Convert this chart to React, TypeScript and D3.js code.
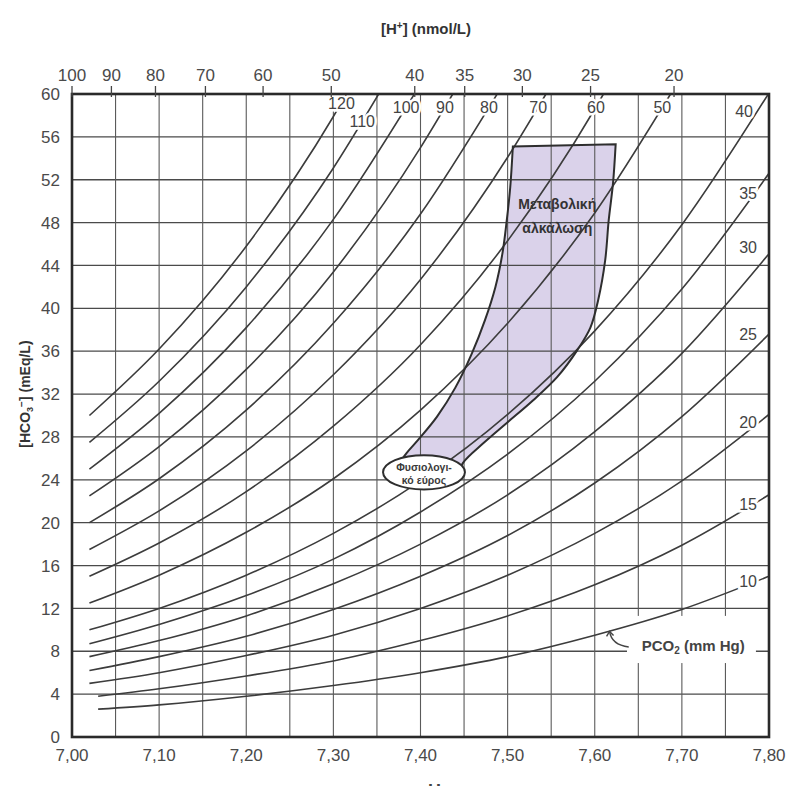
import React, { useEffect, useRef } from "react";
import * as d3 from "d3";

// bottom axis (pH)
const phTicks = [7.0, 7.1, 7.2, 7.3, 7.4, 7.5, 7.6, 7.7, 7.8];
const phTickLabels = ["7,00", "7,10", "7,20", "7,30", "7,40", "7,50", "7,60", "7,70", "7,80"];
// left axis ([HCO3-] mEq/L)
const hco3Ticks = [0, 4, 8, 12, 16, 20, 24, 28, 32, 36, 40, 44, 48, 52, 56, 60];
// top axis ([H+] nmol/L)
const hTicks = [100, 90, 80, 70, 60, 50, 40, 35, 30, 25, 20];

// PCO2 isobars, [pH, HCO3]
const pco2Labels = ["120", "110", "100", "90", "80", "70", "60", "50", "40", "35", "30", "25", "20", "15", "10"];
const isobars = [
  [[7.02, 30.0], [7.1, 36.2], [7.2, 45.8], [7.3, 57.9], [7.315, 60]],
  [[7.02, 27.5], [7.1, 33.2], [7.2, 42.0], [7.3, 53.1], [7.352, 60]],
  [[7.02, 25.0], [7.1, 30.2], [7.2, 38.2], [7.3, 48.3], [7.393, 60]],
  [[7.02, 22.5], [7.1, 27.1], [7.2, 34.3], [7.3, 43.4], [7.4, 55.0], [7.437, 60]],
  [[7.02, 20.0], [7.1, 24.1], [7.2, 30.5], [7.3, 38.6], [7.4, 48.8], [7.488, 60]],
  [[7.02, 17.5], [7.1, 21.1], [7.2, 26.7], [7.3, 33.8], [7.4, 42.7], [7.5, 54.1], [7.544, 60]],
  [[7.02, 15.0], [7.1, 18.1], [7.2, 22.9], [7.3, 29.0], [7.4, 36.6], [7.5, 46.3], [7.6, 58.6], [7.61, 60]],
  [[7.02, 12.5], [7.1, 15.1], [7.2, 19.1], [7.3, 24.1], [7.4, 30.5], [7.5, 38.6], [7.6, 48.9], [7.687, 60]],
  [[7.02, 10.0], [7.1, 12.0], [7.2, 15.1], [7.3, 19.0], [7.4, 23.9], [7.5, 30.1], [7.6, 37.9], [7.7, 47.8], [7.8, 60.1]],
  [[7.02, 8.7], [7.1, 10.5], [7.2, 13.2], [7.3, 16.6], [7.4, 21.0], [7.5, 26.4], [7.6, 33.2], [7.7, 41.8], [7.8, 52.6]],
  [[7.02, 7.5], [7.1, 9.0], [7.2, 11.3], [7.3, 14.3], [7.4, 18.0], [7.5, 22.6], [7.6, 28.5], [7.7, 35.8], [7.8, 45.1]],
  [[7.02, 6.2], [7.1, 7.5], [7.2, 9.4], [7.3, 11.9], [7.4, 15.0], [7.5, 18.8], [7.6, 23.7], [7.7, 29.9], [7.8, 37.6]],
  [[7.02, 5.0], [7.1, 6.0], [7.2, 7.6], [7.3, 9.5], [7.4, 12.0], [7.5, 15.1], [7.6, 19.0], [7.7, 23.9], [7.8, 30.1]],
  [[7.03, 3.8], [7.1, 4.5], [7.2, 5.7], [7.3, 7.1], [7.4, 9.0], [7.5, 11.3], [7.6, 14.2], [7.7, 17.9], [7.8, 22.6]],
  [[7.03, 2.6], [7.1, 3.0], [7.2, 3.8], [7.3, 4.8], [7.4, 6.0], [7.5, 7.5], [7.6, 9.5], [7.7, 11.9], [7.8, 15.0]],
];

// metabolic alkalosis band
const alkalosisLeft = [
  [7.506, 55.1], [7.503, 51.3], [7.499, 48.2], [7.494, 45.1], [7.486, 42.0], [7.474, 38.9],
  [7.459, 35.8], [7.44, 32.6], [7.419, 29.9], [7.397, 27.7], [7.384, 26.5], [7.374, 25.4],
];
const alkalosisRight = [
  [7.624, 55.3], [7.621, 51.7], [7.616, 48.2], [7.612, 44.5], [7.604, 40.8], [7.595, 38.2],
  [7.58, 36.1], [7.557, 33.6], [7.529, 31.4], [7.499, 29.3], [7.472, 27.4], [7.449, 25.6], [7.442, 24.3],
];
// normal range ellipse extents
const normalPh = [7.357, 7.451];
const normalHco3 = [23.1, 26.3];

const FONT = "'Liberation Sans', Arial, sans-serif";

function valueAtPh(pts: number[][], ph: number) {
  for (let i = 1; i < pts.length; i++) {
    if (pts[i][0] >= ph) {
      const t = (ph - pts[i - 1][0]) / (pts[i][0] - pts[i - 1][0]);
      return pts[i - 1][1] + t * (pts[i][1] - pts[i - 1][1]);
    }
  }
  return pts[pts.length - 1][1];
}

function phAtValue(pts: number[][], v: number) {
  for (let i = 1; i < pts.length; i++) {
    if (pts[i][1] >= v) {
      const t = (v - pts[i - 1][1]) / (pts[i][1] - pts[i - 1][1]);
      return pts[i - 1][0] + t * (pts[i][0] - pts[i - 1][0]);
    }
  }
  return null;
}

const Nomogram = () => {
  const ref = useRef<SVGSVGElement>(null);

  useEffect(() => {
    const svg = d3.select(ref.current);
    svg.selectAll("*").remove();

    const x = d3.scaleLinear().domain([7.0, 7.8]).range([72, 769]);
    const y = d3.scaleLinear().domain([0, 60]).range([737, 94]);
    const xTop = d3.scaleLog().domain([100, 20]).range([x(7.0), x(7.691)]);

    svg
      .append("defs")
      .append("clipPath")
      .attr("id", "plot-clip")
      .append("rect")
      .attr("x", x(7.0))
      .attr("y", y(60))
      .attr("width", x(7.8) - x(7.0))
      .attr("height", y(0) - y(60));

    // band fill (under the grid)
    const edge = d3
      .line()
      .x((d: any) => x(d[0]))
      .y((d: any) => y(d[1]))
      .curve(d3.curveCatmullRom);
    const bandPath =
      edge(alkalosisLeft as any) +
      "L" +
      (edge(alkalosisRight.slice().reverse() as any) as string).slice(1) +
      "Z";
    svg.append("path").attr("d", bandPath).attr("fill", "#dad2ea").attr("stroke", "none");

    // grid
    const grid = svg.append("g");
    grid
      .selectAll("line.h")
      .data(hco3Ticks.filter((d) => d > 0 && d < 60))
      .join("line")
      .attr("x1", x(7.0))
      .attr("x2", x(7.8))
      .attr("y1", (d) => y(d))
      .attr("y2", (d) => y(d))
      .attr("stroke", "#4a4a4a")
      .attr("stroke-width", 1.3);
    grid
      .selectAll("line.v")
      .data(x.ticks(16).filter((d) => d > 7.0 && d < 7.8))
      .join("line")
      .attr("x1", (d) => x(d))
      .attr("x2", (d) => x(d))
      .attr("y1", y(0))
      .attr("y2", y(60))
      .attr("stroke", "#5a5a5a")
      .attr("stroke-width", 1.1);

    // white patch behind the PCO2 caption
    svg
      .append("rect")
      .attr("x", x(7.637))
      .attr("y", y(11.3))
      .attr("width", x(7.785) - x(7.637))
      .attr("height", y(6.9) - y(11.3))
      .attr("fill", "#fff");

    // isobars
    const line = d3
      .line()
      .x((d: any) => x(d[0]))
      .y((d: any) => y(d[1]))
      .curve(d3.curveMonotoneX);
    svg
      .append("g")
      .attr("clip-path", "url(#plot-clip)")
      .selectAll("path")
      .data(isobars)
      .join("path")
      .attr("d", (d: any) => line(d))
      .attr("fill", "none")
      .attr("stroke", "#3c3c3c")
      .attr("stroke-width", 1.6);

    // band outline
    svg
      .append("path")
      .attr("d", bandPath)
      .attr("fill", "none")
      .attr("stroke", "#2e2e2e")
      .attr("stroke-width", 2);

    // normal range ellipse
    const cx = x((normalPh[0] + normalPh[1]) / 2);
    const cy = y((normalHco3[0] + normalHco3[1]) / 2);
    svg
      .append("ellipse")
      .attr("cx", cx)
      .attr("cy", cy)
      .attr("rx", (x(normalPh[1]) - x(normalPh[0])) / 2)
      .attr("ry", (y(normalHco3[0]) - y(normalHco3[1])) / 2)
      .attr("fill", "#fff")
      .attr("stroke", "#2e2e2e")
      .attr("stroke-width", 2);
    const ell = svg
      .append("text")
      .attr("text-anchor", "middle")
      .style("font-family", FONT)
      .style("font-size", "10.5px")
      .style("font-weight", "bold")
      .attr("fill", "#3a3a3a");
    ell.append("tspan").attr("x", cx).attr("y", cy - 1).text("Φυσιολογι-");
    ell.append("tspan").attr("x", cx).attr("y", cy + 12).text("κό εύρος");

    // band caption
    const cap = svg
      .append("text")
      .attr("text-anchor", "middle")
      .style("font-family", FONT)
      .style("font-size", "14px")
      .style("font-weight", "bold")
      .attr("fill", "#333");
    cap.append("tspan").attr("x", x(7.557)).attr("y", y(49.3)).text("Μεταβολική");
    cap.append("tspan").attr("x", x(7.557)).attr("y", y(47.0)).text("αλκάλωση");

    // isobar labels: top ones sit on the curve, right ones near the frame
    const topLevel: Record<string, number> = { "120": 59.2, "110": 57.5 };
    const rightNudge: Record<string, number[]> = {
      "40": [-4, -6],
      "30": [0, -23],
      "25": [0, -12],
      "15": [0, 5],
      "10": [0, 5],
    };
    const labels = svg.append("g");
    isobars.forEach((pts, i) => {
      const key = pco2Labels[i];
      const level = topLevel[key] ?? 58.8;
      const topPh = phAtValue(pts, level);
      let lx, ly;
      if (topPh !== null && topPh < 7.775) {
        lx = x(topPh);
        ly = y(level) + 6;
      } else {
        const n = rightNudge[key] ?? [0, 0];
        lx = x(7.776) + n[0];
        ly = y(valueAtPh(pts, 7.776)) - 2 + n[1];
      }
      labels
        .append("text")
        .attr("x", lx)
        .attr("y", ly)
        .attr("text-anchor", "middle")
        .style("font-family", FONT)
        .style("font-size", "16px")
        .attr("fill", "#444")
        .attr("stroke", "#fff")
        .attr("stroke-width", 5)
        .attr("paint-order", "stroke")
        .text(key);
    });

    // PCO2 caption + arrow
    svg
      .append("text")
      .attr("x", x(7.713))
      .attr("y", y(8.5) + 5.5)
      .attr("text-anchor", "middle")
      .style("font-family", FONT)
      .style("font-size", "15px")
      .style("font-weight", "bold")
      .attr("fill", "#444")
      .text("PCO")
      .append("tspan")
      .attr("dy", 3)
      .style("font-size", "10px")
      .text("2")
      .append("tspan")
      .attr("dy", -3)
      .style("font-size", "15px")
      .text(" (mm Hg)");
    const ax0 = x(7.639), ay0 = y(8.4);
    const ax1 = x(7.617), ay1 = y(9.85);
    svg
      .append("path")
      .attr("d", `M${ax0},${ay0} Q${ax1 + 2},${ay0 - 2} ${ax1},${ay1}`)
      .attr("fill", "none")
      .attr("stroke", "#444")
      .attr("stroke-width", 1.4);
    svg
      .append("path")
      .attr("d", `M${ax1 - 3},${ay1 + 5} L${ax1},${ay1} L${ax1 + 4},${ay1 + 4}`)
      .attr("fill", "none")
      .attr("stroke", "#444")
      .attr("stroke-width", 1.4);

    // frame
    svg
      .append("rect")
      .attr("x", x(7.0))
      .attr("y", y(60))
      .attr("width", x(7.8) - x(7.0))
      .attr("height", y(0) - y(60))
      .attr("fill", "none")
      .attr("stroke", "#2a2a2a")
      .attr("stroke-width", 2.6);

    // bottom tick labels
    svg
      .append("g")
      .selectAll("text")
      .data(phTicks)
      .join("text")
      .attr("x", (d) => x(d))
      .attr("y", y(0) + 24)
      .attr("text-anchor", "middle")
      .style("font-family", FONT)
      .style("font-size", "17px")
      .attr("fill", "#4a4a4a")
      .text((d, i) => phTickLabels[i]);

    // left tick labels
    svg
      .append("g")
      .selectAll("text")
      .data(hco3Ticks)
      .join("text")
      .attr("x", x(7.0) - 12)
      .attr("y", (d) => y(d))
      .attr("dy", "0.36em")
      .attr("text-anchor", "end")
      .style("font-family", FONT)
      .style("font-size", "17px")
      .attr("fill", "#4a4a4a")
      .text((d) => d);

    // top [H+] axis
    const top = svg.append("g");
    top
      .selectAll("line")
      .data(hTicks)
      .join("line")
      .attr("x1", (d) => xTop(d))
      .attr("x2", (d) => xTop(d))
      .attr("y1", y(60) - 8)
      .attr("y2", y(60) + 3)
      .attr("stroke", "#444")
      .attr("stroke-width", 1.3);
    top
      .selectAll("text")
      .data(hTicks)
      .join("text")
      .attr("x", (d) => xTop(d))
      .attr("y", y(60) - 13)
      .attr("text-anchor", "middle")
      .style("font-family", FONT)
      .style("font-size", "17px")
      .attr("fill", "#4a4a4a")
      .text((d) => d);

    // titles
    const tt = svg
      .append("text")
      .attr("x", 426)
      .attr("y", 34)
      .attr("text-anchor", "middle")
      .style("font-family", FONT)
      .style("font-size", "15px")
      .style("font-weight", "bold")
      .attr("fill", "#333")
      .text("[H");
    tt.append("tspan").attr("dy", -5).style("font-size", "10px").text("+");
    tt.append("tspan").attr("dy", 5).text("] (nmol/L)");

    const yt = svg
      .append("text")
      .attr("transform", `translate(30,${y(32)}) rotate(-90)`)
      .attr("text-anchor", "middle")
      .style("font-family", FONT)
      .style("font-size", "14px")
      .style("font-weight", "bold")
      .attr("fill", "#333")
      .text("[HCO");
    yt.append("tspan").attr("dy", 3).style("font-size", "9px").text("3");
    yt.append("tspan").attr("dy", -8).style("font-size", "10px").text("−");
    yt.append("tspan").attr("dy", 5).text("] (mEq/L)");

    // x title, cut by the bottom edge as in the scan
    svg
      .append("text")
      .attr("x", 429)
      .attr("y", 797)
      .attr("text-anchor", "middle")
      .style("font-family", FONT)
      .style("font-size", "18px")
      .style("font-weight", "bold")
      .attr("fill", "#444")
      .text("pH");
  }, []);

  return (
    <svg
      ref={ref}
      width={788}
      height={786}
      style={{ position: "absolute", left: 0, top: 0, background: "#fff" }}
    />
  );
};

export default function App() {
  return <Nomogram />;
}
